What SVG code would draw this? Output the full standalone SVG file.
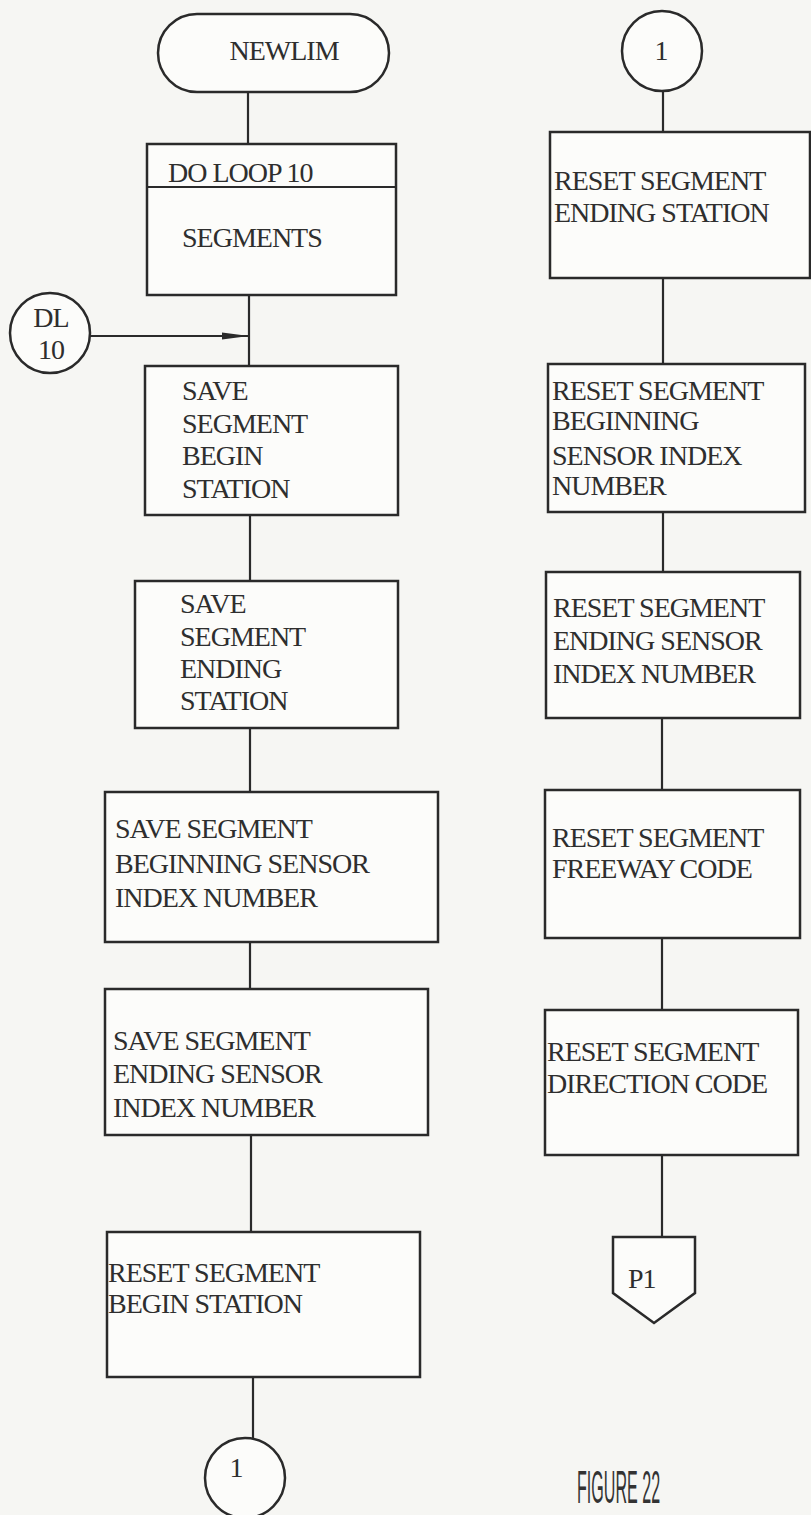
<svg xmlns="http://www.w3.org/2000/svg" width="811" height="1515" viewBox="0 0 811 1515">
<style>
.s{fill:#fcfcfa;stroke:#2a2a2a;stroke-width:2.5}
.c{fill:none;stroke:#2a2a2a;stroke-width:2.2}
.t{font-family:"Liberation Serif","Times New Roman",serif;font-size:28px;fill:#2e2e2e;letter-spacing:-1px}
.m{text-anchor:middle}
.f{font-family:"Liberation Sans",Arial,sans-serif;font-size:46px;fill:#333}
</style>
<defs>
<marker id="ah" markerWidth="28" markerHeight="10" refX="27" refY="5" orient="auto" markerUnits="userSpaceOnUse">
<path d="M0,1.5 L27,5 L0,8.5 Z" fill="#2a2a2a"/>
</marker>
</defs>
<rect width="811" height="1515" fill="#f6f6f3"/>
<g id="connectors">
<line class="c" x1="248" y1="92" x2="248" y2="144"/>
<line class="c" x1="249" y1="295" x2="249" y2="366"/>
<line class="c" x1="90" y1="336" x2="249" y2="336" marker-end="url(#ah)"/>
<line class="c" x1="250" y1="515" x2="250" y2="581"/>
<line class="c" x1="250" y1="728" x2="250" y2="792"/>
<line class="c" x1="250" y1="942" x2="250" y2="989"/>
<line class="c" x1="251" y1="1135" x2="251" y2="1232"/>
<line class="c" x1="253" y1="1377" x2="253" y2="1438"/>
<line class="c" x1="663" y1="90" x2="663" y2="132"/>
<line class="c" x1="663" y1="278" x2="663" y2="364"/>
<line class="c" x1="663" y1="512" x2="663" y2="572"/>
<line class="c" x1="662" y1="718" x2="662" y2="790"/>
<line class="c" x1="662" y1="938" x2="662" y2="1010"/>
<line class="c" x1="662" y1="1155" x2="662" y2="1237"/>
</g>
<g id="newlim">
<rect class="s" x="158" y="14" width="231" height="78" rx="39" ry="39"/>
<text class="t m" x="284" y="60">NEWLIM</text>
</g>
<g id="doloop">
<rect class="s" x="147" y="144" width="249" height="151"/>
<line class="c" x1="147" y1="187" x2="396" y2="187"/>
<text class="t" x="168" y="182">DO LOOP 10</text>
<text class="t" x="182" y="247">SEGMENTS</text>
</g>
<g id="dl10">
<circle class="s" cx="50" cy="333" r="40"/>
<text class="t m" x="51" y="327">DL</text>
<text class="t m" x="51" y="359">10</text>
</g>
<g id="save-begin-station">
<rect class="s" x="145" y="366" width="253" height="149"/>
<text class="t" x="182" y="400">SAVE</text>
<text class="t" x="182" y="433">SEGMENT</text>
<text class="t" x="182" y="465">BEGIN</text>
<text class="t" x="182" y="498">STATION</text>
</g>
<g id="save-ending-station">
<rect class="s" x="135" y="581" width="263" height="147"/>
<text class="t" x="180" y="613">SAVE</text>
<text class="t" x="180" y="646">SEGMENT</text>
<text class="t" x="180" y="678">ENDING</text>
<text class="t" x="180" y="710">STATION</text>
</g>
<g id="save-begin-sensor">
<rect class="s" x="105" y="792" width="333" height="150"/>
<text class="t" x="115" y="838">SAVE SEGMENT</text>
<text class="t" x="115" y="873">BEGINNING SENSOR</text>
<text class="t" x="115" y="907">INDEX NUMBER</text>
</g>
<g id="save-end-sensor">
<rect class="s" x="105" y="989" width="323" height="146"/>
<text class="t" x="113" y="1050">SAVE SEGMENT</text>
<text class="t" x="113" y="1083">ENDING SENSOR</text>
<text class="t" x="113" y="1117">INDEX NUMBER</text>
</g>
<g id="reset-begin-station">
<rect class="s" x="107" y="1232" width="313" height="145"/>
<text class="t" x="108" y="1282">RESET SEGMENT</text>
<text class="t" x="108" y="1313">BEGIN STATION</text>
</g>
<g id="conn-out">
<circle class="s" cx="245" cy="1478" r="40"/>
<text class="t m" x="236" y="1477">1</text>
</g>
<g id="conn-in">
<circle class="s" cx="662" cy="51" r="40"/>
<text class="t m" x="661" y="60">1</text>
</g>
<g id="reset-ending-station">
<rect class="s" x="550" y="132" width="260" height="146"/>
<text class="t" x="554" y="190">RESET SEGMENT</text>
<text class="t" x="554" y="222">ENDING STATION</text>
</g>
<g id="reset-begin-sensor">
<rect class="s" x="548" y="364" width="257" height="148"/>
<text class="t" x="552" y="400">RESET SEGMENT</text>
<text class="t" x="552" y="430">BEGINNING</text>
<text class="t" x="552" y="465">SENSOR INDEX</text>
<text class="t" x="552" y="495">NUMBER</text>
</g>
<g id="reset-end-sensor">
<rect class="s" x="546" y="572" width="254" height="146"/>
<text class="t" x="553" y="617">RESET SEGMENT</text>
<text class="t" x="553" y="650">ENDING SENSOR</text>
<text class="t" x="553" y="683">INDEX NUMBER</text>
</g>
<g id="reset-freeway">
<rect class="s" x="545" y="790" width="255" height="148"/>
<text class="t" x="552" y="847">RESET SEGMENT</text>
<text class="t" x="552" y="878">FREEWAY CODE</text>
</g>
<g id="reset-direction">
<rect class="s" x="545" y="1010" width="253" height="145"/>
<text class="t" x="547" y="1061">RESET SEGMENT</text>
<text class="t" x="547" y="1093">DIRECTION CODE</text>
</g>
<g id="p1">
<polygon class="s" points="613,1237 695,1237 695,1293 654,1323 613,1293"/>
<text class="t" x="628" y="1288">P1</text>
</g>
<text class="f" transform="translate(577,1503) scale(0.35,1)" x="0" y="0">FIGURE 22</text>
</svg>
